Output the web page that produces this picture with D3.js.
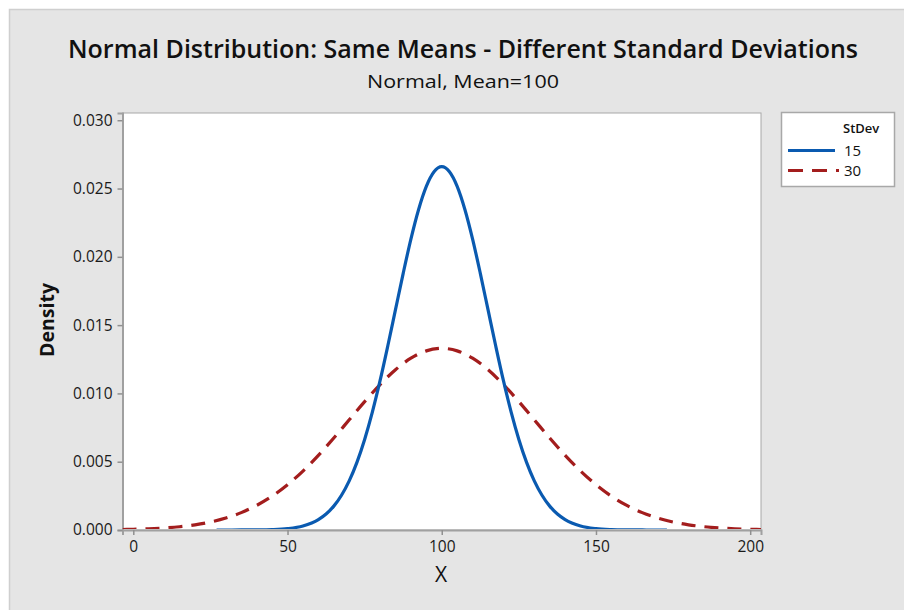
<!DOCTYPE html>
<html>
<head>
<meta charset="utf-8">
<script src="https://cdn.jsdelivr.net/npm/d3@7"></script>
<style>
html,body{margin:0;padding:0;background:#fff;}
svg{display:block;}
text{font-family:"Open Sans","Noto Sans",sans-serif;}
</style>
</head>
<body>
<svg id="chart" width="904" height="610"></svg>
<script>
// ---- data ----
const xTicks = [0, 50, 100, 150, 200];
const yTicks = [0, 0.005, 0.010, 0.015, 0.020, 0.025, 0.030];
const seriesNames = ["15", "30"];

const xSd15 = [27, 30, 35, 40, 45, 50, 55, 60, 62.5, 65, 67.5, 70, 72.5, 75, 77.5, 80, 82.5, 85, 87.5, 90, 92.5, 95, 97.5, 100,
  102.5, 105, 107.5, 110, 112.5, 115, 117.5, 120, 122.5, 125, 127.5, 130, 132.5, 135, 137.5, 140, 145, 150, 155, 160, 165, 170, 173];
const ySd15 = [0.0000002, 0.0000005, 0.0000022, 0.0000089, 0.0000320, 0.000103, 0.000295, 0.000760, 0.001169, 0.001748, 0.002544, 0.003599, 0.004954, 0.006632, 0.008634, 0.01093, 0.01347, 0.01613, 0.01879, 0.02130, 0.02347, 0.02516, 0.02623, 0.02660,
  0.02623, 0.02516, 0.02347, 0.02130, 0.01879, 0.01613, 0.01347, 0.01093, 0.008634, 0.006632, 0.004954, 0.003599, 0.002544, 0.001748, 0.001169, 0.000760, 0.000295, 0.000103, 0.0000320, 0.0000089, 0.0000022, 0.0000005, 0.0000002];

const xSd30 = [-3.5, 0, 5, 10, 15, 20, 25, 30, 35, 40, 45, 50, 55, 60, 65, 70, 75, 80, 85, 90, 95, 100,
  105, 110, 115, 120, 125, 130, 135, 140, 145, 150, 155, 160, 165, 170, 175, 180, 185, 190, 195, 200, 203.5];
const ySd30 = [0.0000346, 0.0000514, 0.0000883, 0.000148, 0.000240, 0.000380, 0.000584, 0.000874, 0.001272, 0.001800, 0.002477, 0.003316, 0.004317, 0.005467, 0.006733, 0.008066, 0.009397, 0.010648, 0.011735, 0.012579, 0.013115, 0.013298,
  0.013115, 0.012579, 0.011735, 0.010648, 0.009397, 0.008066, 0.006733, 0.005467, 0.004317, 0.003316, 0.002477, 0.001800, 0.001272, 0.000874, 0.000584, 0.000380, 0.000240, 0.000148, 0.0000883, 0.0000514, 0.0000346];

// ---- layout ----
const svg = d3.select("#chart");
const W = 904, H = 610;
const plot = {left: 122.5, right: 761, top: 113, bottom: 530};

svg.append("rect").attr("x", 9.5).attr("y", 9.5).attr("width", W).attr("height", H)
  .attr("fill", "#e5e5e5").attr("stroke", "#cfcfcf").attr("stroke-width", 1.5);

const x = d3.scaleLinear().domain([-3.5, 203.5]).range([plot.left, plot.right]);
const y = d3.scaleLinear().domain([0, 0.03053]).range([plot.bottom, plot.top]);

svg.append("rect").attr("x", plot.left).attr("y", plot.top)
  .attr("width", plot.right - plot.left).attr("height", plot.bottom - plot.top)
  .attr("fill", "#fff").attr("stroke", "#a8a8a8").attr("stroke-width", 1);

// axes
const xAxis = svg.append("g").attr("transform", `translate(0,${plot.bottom})`)
  .call(d3.axisBottom(x).tickValues(xTicks).tickSize(5).tickPadding(3).tickFormat(d3.format("d")));
const yAxis = svg.append("g").attr("transform", `translate(${plot.left},0)`)
  .call(d3.axisLeft(y).tickValues(yTicks).tickSize(5).tickPadding(5).tickFormat(d3.format(".3f")));
[xAxis, yAxis].forEach(g => {
  g.select(".domain").attr("stroke", "#a0a0a0").attr("stroke-width", 2);
  g.selectAll(".tick line").attr("stroke", "#909090").attr("stroke-width", 1.5);
  g.selectAll(".tick text").attr("fill", "#1a1a1a").style("font-size", "15.5px")
    .style("font-family", "'Open Sans','Noto Sans',sans-serif");
});
xAxis.selectAll(".tick text").attr("dy", "0.9em");

// clip
svg.append("clipPath").attr("id", "clip").append("rect")
  .attr("x", plot.left).attr("y", plot.top - 5).attr("width", plot.right - plot.left).attr("height", plot.bottom - plot.top + 4);

const line = d3.line().x(d => x(d[0])).y(d => y(d[1])).curve(d3.curveMonotoneX);
const d30 = xSd30.map((v, i) => [v, ySd30[i]]);
const d15 = xSd15.map((v, i) => [v, ySd15[i]]);
const colors = ["#0a5ab0", "#a31d1d"];

svg.append("path").attr("clip-path", "url(#clip)").datum(d30).attr("d", line)
  .attr("fill", "none").attr("stroke", colors[1]).attr("stroke-width", 3.2)
  .attr("stroke-dasharray", "14,9");
svg.append("path").attr("clip-path", "url(#clip)").datum(d15).attr("d", line)
  .attr("fill", "none").attr("stroke", colors[0]).attr("stroke-width", 3.2);

// titles
svg.append("text").attr("x", 463).attr("y", 58).attr("text-anchor", "middle")
  .style("font-size", "25px").style("font-weight", 600).attr("fill", "#111")
  .attr("textLength", 790).attr("lengthAdjust", "spacingAndGlyphs")
  .text("Normal Distribution: Same Means - Different Standard Deviations");
svg.append("text").attr("x", 463).attr("y", 88).attr("text-anchor", "middle")
  .style("font-size", "19px").style("font-weight", 500).attr("fill", "#111")
  .attr("textLength", 192).attr("lengthAdjust", "spacingAndGlyphs")
  .text("Normal, Mean=100");
svg.append("text").attr("x", 441).attr("y", 582).attr("text-anchor", "middle")
  .style("font-size", "21px").attr("fill", "#111").text("X");
svg.append("text").attr("transform", "translate(54,320) rotate(-90)").attr("text-anchor", "middle")
  .style("font-size", "19px").style("font-weight", 700).attr("fill", "#111")
  .attr("textLength", 74).attr("lengthAdjust", "spacingAndGlyphs").text("Density");

// legend
const lg = svg.append("g");
lg.append("rect").attr("x", 781.5).attr("y", 112.5).attr("width", 113).attr("height", 74)
  .attr("fill", "#fff").attr("stroke", "#a8a8a8").attr("stroke-width", 1.5);
lg.append("text").attr("x", 843).attr("y", 133).style("font-size", "13px").style("font-weight", 600)
  .attr("fill", "#111").text("StDev");
seriesNames.forEach((name, i) => {
  const yy = 150.5 + i * 20;
  lg.append("line").attr("x1", 788).attr("x2", i === 0 ? 835 : 839).attr("y1", yy).attr("y2", yy)
    .attr("stroke", colors[i]).attr("stroke-width", 3)
    .attr("stroke-dasharray", i === 0 ? null : "15,9");
  lg.append("text").attr("x", 844).attr("y", yy + 5.5).style("font-size", "15px")
    .attr("fill", "#111").text(name);
});
</script>
</body>
</html>
